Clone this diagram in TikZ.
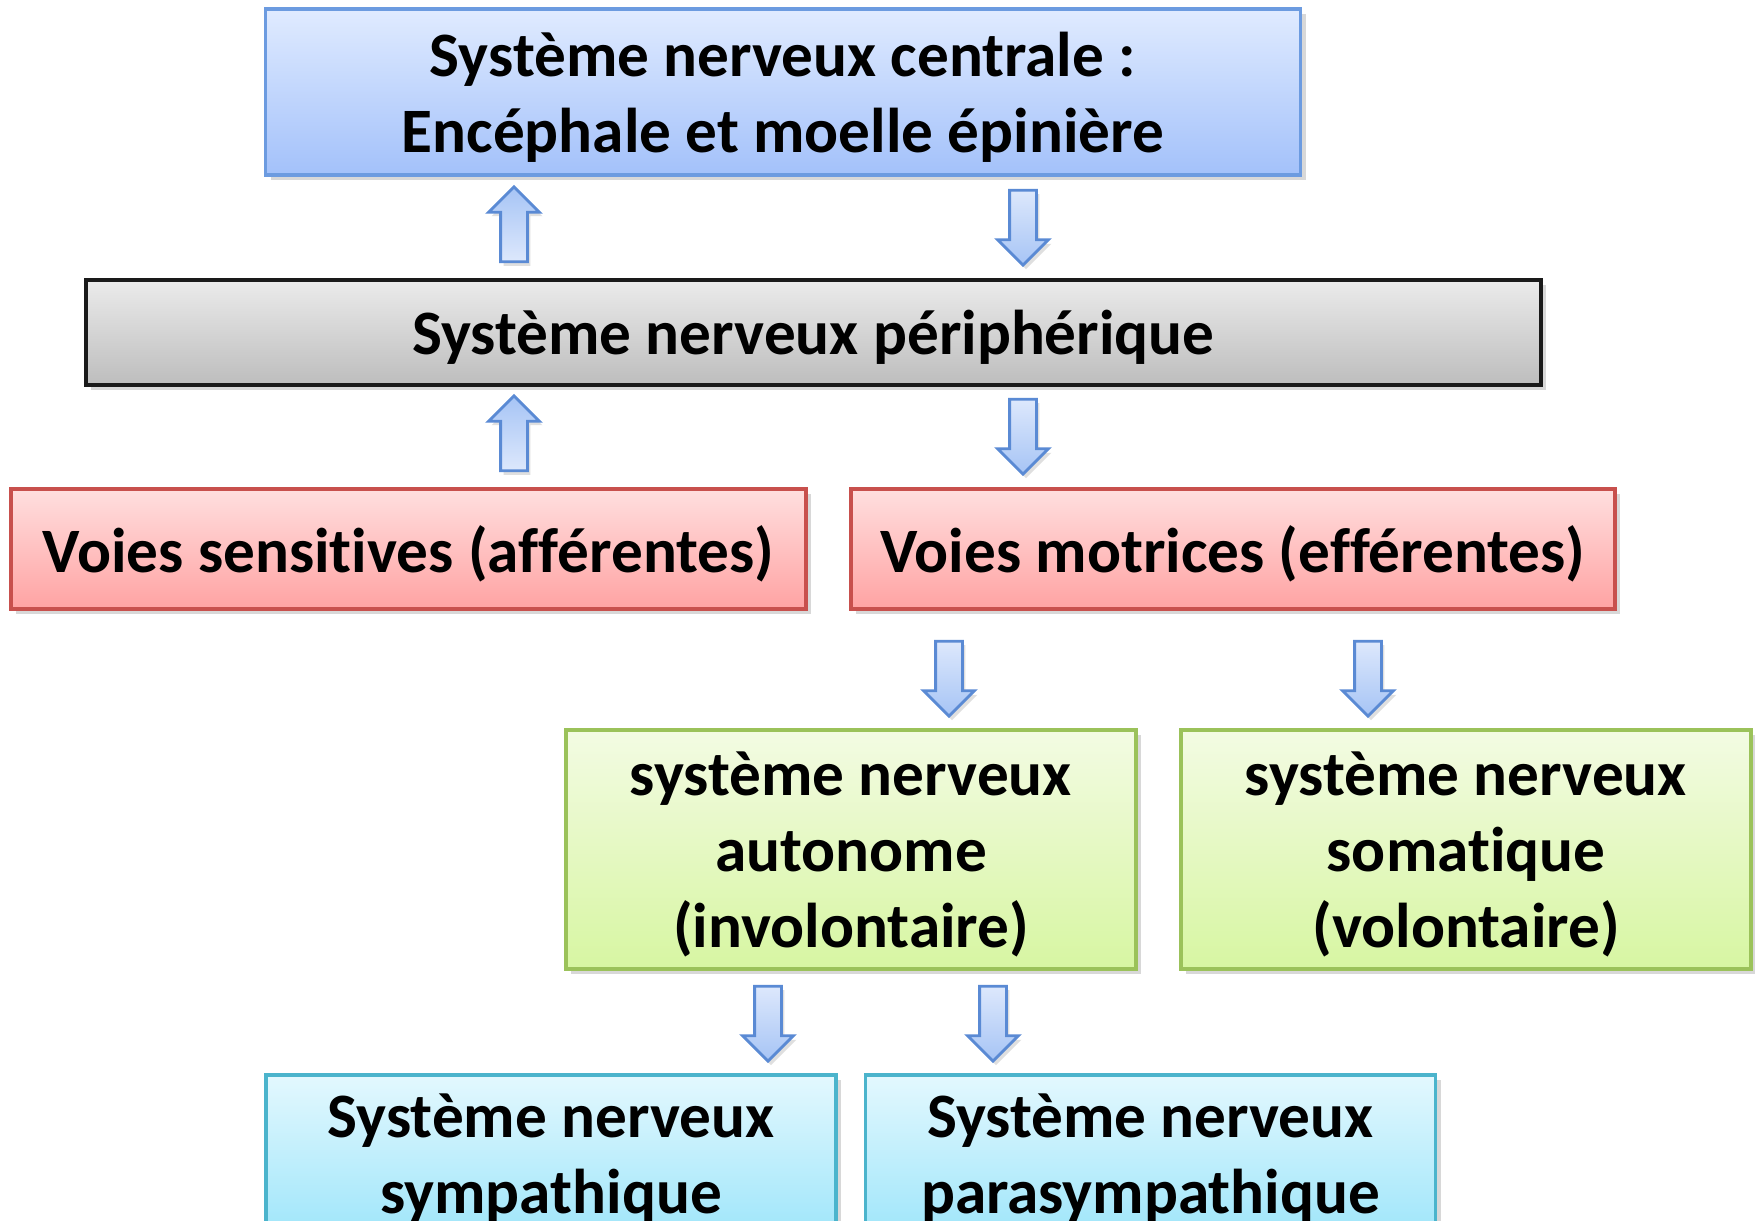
\documentclass[tikz,border=0pt]{standalone}
\usepackage{fontspec}
\setmainfont{Carlito}[Ligatures=NoCommon, Contextuals=NoAlternate, RawFeature=-clig]
\usetikzlibrary{shapes.arrows,shadows}

\definecolor{bleuB}{HTML}{6C9BE0}
\definecolor{bleuH}{HTML}{E0EBFF}
\definecolor{bleuL}{HTML}{A3C1FA}
\definecolor{grisB}{HTML}{1A1A1A}
\definecolor{grisH}{HTML}{EBEBEB}
\definecolor{grisL}{HTML}{BDBDBD}
\definecolor{rougeB}{HTML}{C8504D}
\definecolor{rougeH}{HTML}{FFDFDF}
\definecolor{rougeL}{HTML}{FFA3A3}
\definecolor{vertB}{HTML}{9BC25A}
\definecolor{vertH}{HTML}{F3FBE3}
\definecolor{vertL}{HTML}{D7F6A2}
\definecolor{cyanB}{HTML}{4BB4CC}
\definecolor{cyanH}{HTML}{E3F8FE}
\definecolor{cyanL}{HTML}{A0E6FA}
\definecolor{flecheB}{HTML}{5A8AD4}
\definecolor{flecheF}{HTML}{A6C4F5}
\definecolor{flecheC}{HTML}{DDE8FC}

\begin{document}
\begin{tikzpicture}[
  boite/.style={draw, line width=0.9pt, align=center, inner sep=0pt, text depth=0pt,
    font=\fontsize{18}{21.6}\selectfont\bfseries,
    drop shadow={shadow xshift=0.05cm, shadow yshift=-0.05cm, opacity=0.3}},
  bleu/.style={boite, draw=bleuB, top color=bleuH, bottom color=bleuL},
  gris/.style={boite, draw=grisB, top color=grisH, bottom color=grisL},
  rouge/.style={boite, draw=rougeB, top color=rougeH, bottom color=rougeL},
  vert/.style={boite, draw=vertB, top color=vertH, bottom color=vertL},
  cyanbox/.style={boite, draw=cyanB, top color=cyanH, bottom color=cyanL},
  fleche/.style={single arrow, draw=flecheB, line width=0.8pt, inner sep=0.12cm,
    minimum height=0.75cm, minimum width=0.48cm, single arrow head extend=0.12cm,
    drop shadow={shadow xshift=0.03cm, shadow yshift=-0.04cm, opacity=0.25}},
  haut/.style={fleche, shape border rotate=90, top color=flecheF, bottom color=flecheC},
  bas/.style={fleche, shape border rotate=270, top color=flecheC, bottom color=flecheF}
]
\clip (0, 0) rectangle (17.55, 12.21);
\fill[white] (0, 0) rectangle (17.55, 12.21);

\node[bleu, minimum width=10.35cm, minimum height=1.66cm] (snc) at (7.83, 11.29)
  {Système nerveux centrale :\\Encéphale et moelle épinière};
\node[gris, minimum width=14.55cm, minimum height=1.05cm] (snp) at (8.135, 8.885)
  {Système nerveux périphérique};
\node[rouge, minimum width=7.95cm, minimum height=1.2cm] (vsa) at (4.085, 6.72)
  {Voies sensitives (afférentes)};
\node[rouge, minimum width=7.64cm, minimum height=1.2cm] (vme) at (12.33, 6.72)
  {Voies motrices (efférentes)};
\node[vert, minimum width=5.7cm, minimum height=2.39cm] (sna) at (8.51, 3.715)
  {système nerveux\\autonome\\(involontaire)};
\node[vert, minimum width=5.7cm, minimum height=2.39cm] (sns) at (14.66, 3.715)
  {système nerveux\\somatique\\(volontaire)};
\node[cyanbox, minimum width=5.7cm, minimum height=1.58cm] (symp) at (5.51, 0.67)
  {Système nerveux\\sympathique};
\node[cyanbox, minimum width=5.7cm, minimum height=1.58cm] (para) at (11.505, 0.67)
  {Système nerveux\\parasympathique};

% fleches
\node[haut] (h1) at (5.14, 9.9) {};
\node[bas] (b1) at (10.23, 10.0) {};
\node[haut] (h2) at (5.14, 7.81) {};
\node[bas] (b2) at (10.23, 7.91) {};
\node[bas] (b3) at (9.49, 5.49) {};
\node[bas] (b4) at (13.68, 5.49) {};
\node[bas] (b5) at (7.68, 2.04) {};
\node[bas] (b6) at (9.93, 2.04) {};

\end{tikzpicture}
\end{document}
